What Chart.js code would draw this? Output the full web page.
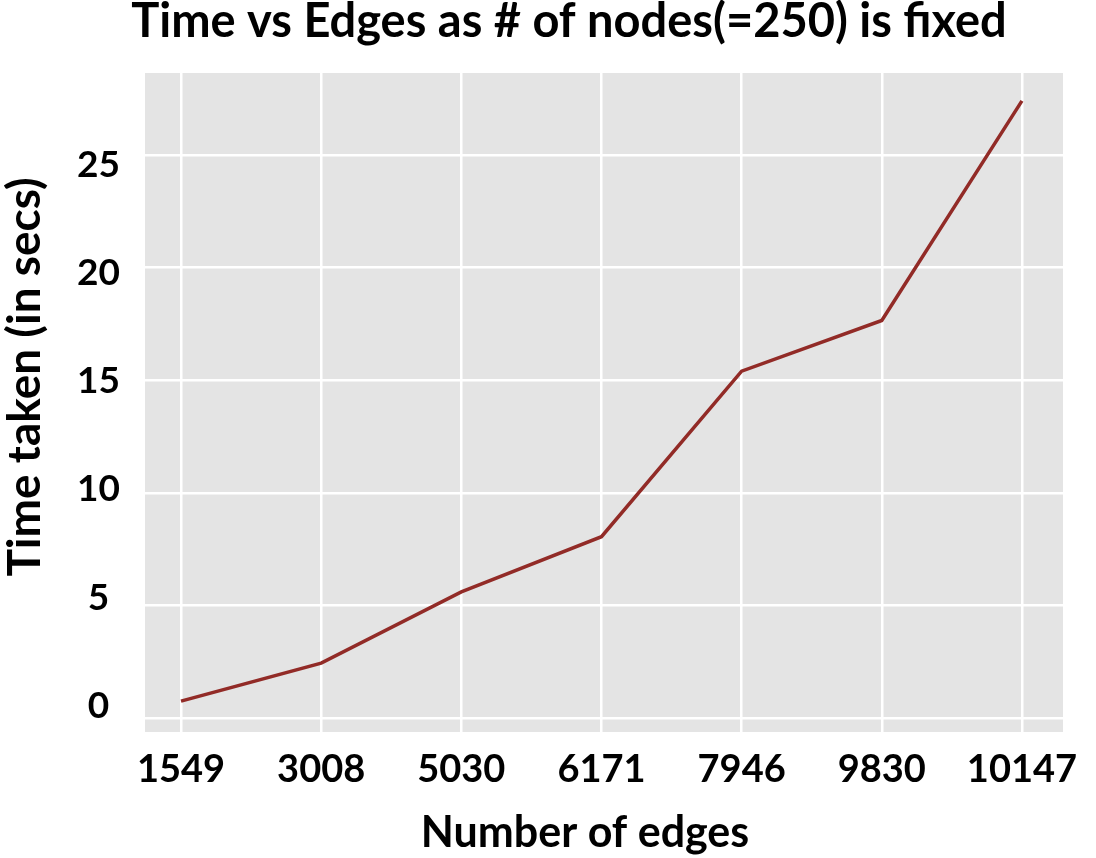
<!DOCTYPE html>
<html>
<head>
<meta charset="utf-8">
<script src="https://cdn.jsdelivr.net/npm/chart.js@4.4.1/dist/chart.umd.min.js"></script>
<style>
  html, body { margin: 0; padding: 0; background: #fff; }
</style>
</head>
<body>
<canvas id="chart" width="1096" height="858"></canvas>
<script>
// Données
const edgeLabels = ['1549', '3008', '5030', '6171', '7946', '9830', '10147'];
const timeSecs = [0.75, 2.44, 5.6, 8.05, 15.4, 17.65, 27.4];
const yTicks = [0, 5, 10, 15, 20, 25];

const chartTitle = 'Time vs Edges as # of nodes(=250) is fixed';
const xTitle = 'Number of edges';
const yTitle = 'Time taken (in secs)';

Chart.defaults.font.family = 'Lato';

// Fond gris de la zone de tracé
const plotBackground = {
    id: 'plotBackground',
    beforeDraw(chart) {
        const { ctx, chartArea: a } = chart;
        ctx.save();
        ctx.fillStyle = '#e4e4e4';
        ctx.fillRect(a.left, a.top, a.right - a.left, a.bottom - a.top);
        ctx.restore();
    }
};

// Décale le titre principal vers la droite
const titleOffset = {
    id: 'titleOffset',
    afterLayout(chart) {
        if (chart.titleBlock) chart.titleBlock.left += 75;
    }
};

// Titres des axes
const axisTitles = {
    id: 'axisTitles',
    afterDraw(chart) {
        const { ctx } = chart;
        ctx.save();
        ctx.fillStyle = '#000';
        ctx.textAlign = 'center';
        ctx.textBaseline = 'middle';
        ctx.font = 'bold 43px Lato';
        ctx.fillText(xTitle, 585, 833);
        ctx.translate(25, 377);
        ctx.rotate(-Math.PI / 2);
        ctx.font = 'bold 46px Lato';
        ctx.fillText(yTitle, 0, 0);
        ctx.restore();
    }
};

new Chart(document.getElementById('chart'), {
    type: 'line',
    data: {
        datasets: [{
            data: timeSecs.map((v, i) => ({ x: i, y: v })),
            borderColor: '#922b27',
            borderWidth: 3.5,
            pointRadius: 0,
            tension: 0,
            fill: false
        }]
    },
    options: {
        responsive: false,
        animation: false,
        layout: { padding: { top: 0, left: 0, right: 33, bottom: 0 } },
        plugins: {
            legend: { display: false },
            tooltip: { enabled: false },
            title: {
                display: true,
                text: chartTitle,
                color: '#000',
                font: { size: 47, weight: 'bold', lineHeight: 0.95 },
                padding: { top: 0, bottom: 28.35 }
            }
        },
        scales: {
            x: {
                type: 'linear',
                min: -0.257,
                max: 6.293,
                bounds: 'data',
                afterBuildTicks: s => { s.ticks = edgeLabels.map((_, i) => ({ value: i })); },
                afterFit: s => { s.height = 126; },
                grid: { color: '#ffffff', lineWidth: 2.5, drawTicks: false },
                border: { display: false },
                ticks: {
                    callback: v => edgeLabels[v],
                    font: { size: 38, weight: 'bold' },
                    color: '#000',
                    padding: 14.5,
                    maxRotation: 0,
                    autoSkip: false
                }
            },
            y: {
                type: 'linear',
                position: 'left',
                min: -0.62,
                max: 28.64,
                bounds: 'data',
                afterBuildTicks: s => { s.ticks = yTicks.map(v => ({ value: v })); },
                afterFit: s => { s.width = 0; },
                grid: { color: '#ffffff', lineWidth: 2.5, drawTicks: false },
                border: { display: false },
                ticks: { display: false }
            },
            yLabels: {
                type: 'linear',
                position: 'left',
                min: -1.216,
                max: 29.265,
                bounds: 'data',
                afterBuildTicks: s => { s.ticks = yTicks.map(v => ({ value: v })); },
                afterFit: s => { s.width = 145; },
                grid: { display: false, drawTicks: false },
                border: { display: false },
                ticks: { font: { size: 37, weight: 'bold' }, color: '#000', crossAlign: 'center', padding: 25 }
            }
        }
    },
    plugins: [plotBackground, titleOffset, axisTitles]
});
</script>
</body>
</html>
